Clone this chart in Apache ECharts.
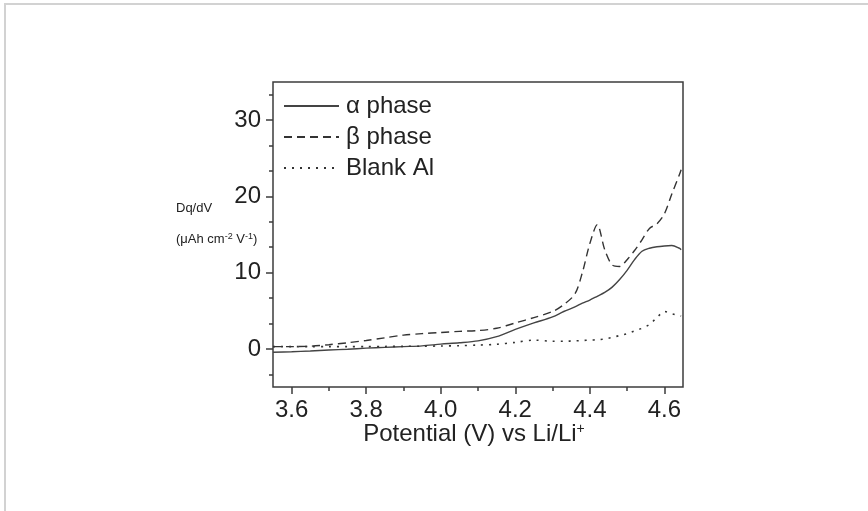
<!DOCTYPE html>
<html>
<head>
<meta charset="utf-8">
<script src="https://cdn.jsdelivr.net/npm/echarts@6/dist/echarts.min.js"></script>
<style>
  html, body { margin: 0; padding: 0; background: #fff; }
  #chart-container { width: 868px; height: 511px; }
</style>
</head>
<body>
<div id="chart-container"></div>
<script>
// potential (V vs Li/Li+), shared by all three curves
const potential = [3.55, 3.60, 3.65, 3.70, 3.75, 3.80, 3.85, 3.90, 3.95, 4.00, 4.05, 4.10, 4.15, 4.20, 4.25, 4.30,
  4.33, 4.36, 4.38, 4.40, 4.42, 4.44, 4.46, 4.48, 4.50, 4.52, 4.54, 4.56, 4.58, 4.60, 4.62, 4.64, 4.645];

const alphaPhase = [-0.45, -0.38, -0.28, -0.15, -0.05, 0.1, 0.2, 0.3, 0.4, 0.62, 0.8, 1.05, 1.6, 2.55, 3.4, 4.2,
  4.9, 5.5, 6.0, 6.4, 6.9, 7.4, 8.1, 9.1, 10.3, 11.7, 12.8, 13.2, 13.4, 13.5, 13.55, 13.2, 13.0];

const betaPhase = [0.3, 0.3, 0.35, 0.55, 0.8, 1.1, 1.45, 1.8, 2.0, 2.15, 2.3, 2.4, 2.7, 3.4, 4.1, 4.9,
  5.8, 7.2, 10.0, 13.8, 16.3, 13.0, 11.0, 10.8, 11.7, 12.9, 14.3, 15.8, 16.4, 17.7, 20.3, 22.8, 23.5];

const blankAl = [0.3, 0.3, 0.3, 0.3, 0.3, 0.3, 0.32, 0.33, 0.35, 0.38, 0.42, 0.5, 0.6, 0.85, 1.15, 1.0,
  1.0, 1.05, 1.1, 1.15, 1.2, 1.3, 1.5, 1.75, 2.0, 2.35, 2.7, 3.2, 4.1, 4.9, 4.6, 4.35, 4.3];

const xTicks = [3.6, 3.8, 4.0, 4.2, 4.4, 4.6];
const xMinorTicks = [3.7, 3.9, 4.1, 4.3, 4.5];
const yTicks = [0, 10, 20, 30];
const yMinorTicks = [-10 / 3, 10 / 3, 20 / 3, 40 / 3, 50 / 3, 70 / 3, 80 / 3, 100 / 3];

const pairs = ys => potential.map((x, i) => [x, ys[i]]);

var dom = document.getElementById('chart-container');
var myChart = echarts.init(dom, null, { renderer: 'canvas' });

const ink = '#3c3c3c';
const font = 'Liberation Sans, Arial, sans-serif';

var option = {
  animation: false,
  textStyle: { fontFamily: font },
  grid: {
    left: 273, top: 82, right: 185, bottom: 124,
    show: true, borderColor: ink, borderWidth: 1.5
  },
  legend: {
    orient: 'vertical',
    left: 283, top: 94, padding: 0,
    itemWidth: 55, itemHeight: 14, itemGap: 7,
    itemStyle: { opacity: 0 },
    textStyle: { fontSize: 24, color: '#222', lineHeight: 22, fontFamily: font, padding: [0, 0, 0, 2] },
    data: ['α phase', 'β phase', 'Blank Al']
  },
  xAxis: [{
    type: 'value', min: 3.55, max: 4.65,
    axisLine: { show: false, onZero: false },
    splitLine: { show: false },
    axisTick: { show: true, inside: false, length: 7, customValues: xTicks, lineStyle: { color: ink, width: 1.5 } },
    axisLabel: { customValues: xTicks, fontSize: 24, color: '#222', margin: 11,
      formatter: v => v.toFixed(1) },
    name: 'Potential (V) vs Li/Li{sup|+}',
    nameLocation: 'middle', nameGap: 35, nameMoveOverlap: false,
    nameTextStyle: { fontSize: 24, color: '#222', padding: [0, 8, 0, 0],
      rich: { sup: { fontSize: 14, color: '#222', padding: [0, 0, 11, 0] } } }
  }, {
    type: 'value', min: 3.55, max: 4.65, position: 'bottom',
    axisLine: { show: false, onZero: false }, splitLine: { show: false },
    axisLabel: { show: false },
    axisTick: { show: true, length: 4, customValues: xMinorTicks, lineStyle: { color: ink, width: 1.5 } }
  }],
  yAxis: [{
    type: 'value', min: -5, max: 35,
    axisLine: { show: false, onZero: false }, splitLine: { show: false },
    axisTick: { show: true, length: 7, customValues: yTicks, lineStyle: { color: ink, width: 1.5 } },
    axisLabel: { customValues: yTicks, fontSize: 24, color: '#222', margin: 12 }
  }, {
    type: 'value', min: -5, max: 35, position: 'left',
    axisLine: { show: false, onZero: false }, splitLine: { show: false },
    axisLabel: { show: false },
    axisTick: { show: true, length: 4, customValues: yMinorTicks, lineStyle: { color: ink, width: 1.5 } }
  }],
  graphic: [
    { type: 'line', shape: { x1: 4, y1: 4, x2: 868, y2: 4 }, style: { stroke: '#d2d2d2', lineWidth: 2 } },
    { type: 'line', shape: { x1: 5, y1: 4, x2: 5, y2: 511 }, style: { stroke: '#d2d2d2', lineWidth: 2 } },
    { type: 'text', left: 176, top: 202, style: { text: 'Dq/dV', fontSize: 13, fill: '#222', fontFamily: font } },
    { type: 'text', left: 176, top: 232, style: {
      text: '(μAh cm{sup|-2} V{sup|-1})', fontSize: 13, fill: '#222', fontFamily: font,
      rich: { sup: { fontSize: 9, fill: '#222', padding: [0, 0, 6, 0] } } } }
  ],
  series: [{
    name: 'α phase', type: 'line', symbol: 'none', smooth: 0.3,
    lineStyle: { color: '#444', width: 1.4, type: 'solid' },
    itemStyle: { color: '#444' },
    data: pairs(alphaPhase)
  }, {
    name: 'β phase', type: 'line', symbol: 'none', smooth: 0.3,
    lineStyle: { color: '#333', width: 1.4, type: [8, 5] },
    itemStyle: { color: '#333' },
    data: pairs(betaPhase)
  }, {
    name: 'Blank Al', type: 'line', symbol: 'none', smooth: 0.3,
    lineStyle: { color: '#333', width: 1.6, type: [2, 6] },
    itemStyle: { color: '#333' },
    data: pairs(blankAl)
  }]
};

myChart.setOption(option);
window.addEventListener('resize', myChart.resize);
</script>
</body>
</html>
